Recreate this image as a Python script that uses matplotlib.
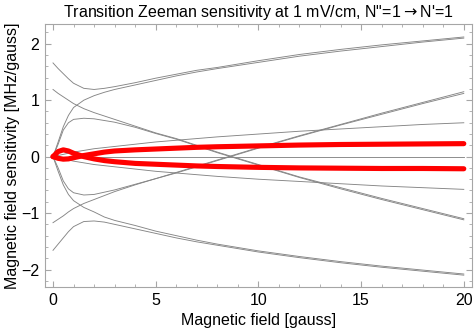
import matplotlib
matplotlib.use('Agg')
import matplotlib.pyplot as plt
from matplotlib.ticker import MultipleLocator

plt.rcParams['font.family'] = ['Liberation Sans', 'DejaVu Sans']

# magnetic field samples [gauss]
field = [0, 0.25, 0.5, 0.75, 1, 1.5, 2, 2.5, 3, 4, 5, 6, 7, 8, 10, 12, 14, 16, 18, 20]

# grey transitions (MHz/gauss)
outer_up = [1.66, 1.56, 1.47, 1.38, 1.30, 1.21, 1.19, 1.21, 1.24, 1.31, 1.39, 1.46, 1.53, 1.58, 1.70, 1.81, 1.90, 1.98, 2.05, 2.12]
steep_up = [0.0, 0.26, 0.53, 0.73, 0.87, 1.00, 1.08, 1.14, 1.19, 1.27, 1.35, 1.43, 1.50, 1.56, 1.67, 1.78, 1.87, 1.95, 2.03, 2.10]
fall_a = [1.19, 1.12, 1.06, 1.00, 0.94, 0.85, 0.78, 0.72, 0.66, 0.54, 0.42, 0.32, 0.20, 0.08, -0.14, -0.36, -0.55, -0.74, -0.92, -1.10]
fall_b = [0.0, 0.22, 0.47, 0.60, 0.66, 0.68, 0.67, 0.64, 0.61, 0.52, 0.41, 0.31, 0.19, 0.07, -0.15, -0.37, -0.57, -0.76, -0.94, -1.12]
slow_up = [0.0, 0.02, 0.04, 0.06, 0.08, 0.11, 0.14, 0.16, 0.18, 0.22, 0.26, 0.29, 0.32, 0.35, 0.40, 0.45, 0.49, 0.53, 0.57, 0.60]
flat = [0.0] * 20
slow_down = [0.0, -0.02, -0.04, -0.06, -0.08, -0.11, -0.14, -0.16, -0.18, -0.22, -0.26, -0.29, -0.32, -0.35, -0.40, -0.44, -0.48, -0.52, -0.55, -0.58]
rise_a = [-1.17, -1.11, -1.05, -0.98, -0.92, -0.83, -0.76, -0.69, -0.62, -0.50, -0.39, -0.28, -0.17, -0.06, 0.16, 0.37, 0.57, 0.77, 0.96, 1.15]
rise_b = [0.0, -0.20, -0.43, -0.57, -0.64, -0.68, -0.67, -0.63, -0.59, -0.49, -0.39, -0.29, -0.18, -0.07, 0.15, 0.36, 0.56, 0.75, 0.94, 1.12]
steep_down = [0.0, -0.26, -0.50, -0.67, -0.78, -0.90, -0.98, -1.07, -1.13, -1.22, -1.32, -1.40, -1.48, -1.55, -1.67, -1.77, -1.86, -1.94, -2.01, -2.08]
outer_down = [-1.66, -1.55, -1.44, -1.33, -1.24, -1.15, -1.14, -1.16, -1.20, -1.28, -1.36, -1.44, -1.51, -1.57, -1.69, -1.79, -1.88, -1.96, -2.03, -2.10]

grey_curves = [outer_up, steep_up, fall_a, fall_b, slow_up, flat,
               slow_down, rise_a, rise_b, steep_down, outer_down]

# highlighted (red) transitions
red_a = [0.0, 0.09, 0.12, 0.10, 0.06, 0.0, -0.04, -0.07, -0.09, -0.12, -0.135, -0.15, -0.165, -0.175, -0.19, -0.20, -0.205, -0.21, -0.21, -0.215]
red_b = [0.0, -0.03, -0.045, -0.04, -0.02, 0.02, 0.05, 0.08, 0.10, 0.12, 0.135, 0.15, 0.165, 0.175, 0.19, 0.205, 0.215, 0.22, 0.225, 0.23]

fig = plt.figure(figsize=(4.74, 3.34), dpi=100)
ax = fig.add_axes([45 / 474, 47 / 334, 427 / 474, 263 / 334])

for ys in grey_curves:
    ax.plot(field, ys, color='#858585', lw=0.65)
for ys in [red_a, red_b]:
    ax.plot(field, ys, color='red', lw=3.7, solid_joinstyle='round', solid_capstyle='round')

ax.set_xlim(-0.39, 20.4)
ax.set_ylim(-2.31, 2.35)
ax.xaxis.set_major_locator(MultipleLocator(5))
ax.xaxis.set_minor_locator(MultipleLocator(1))
ax.yaxis.set_major_locator(MultipleLocator(1))
ax.yaxis.set_minor_locator(MultipleLocator(0.2))

frame_grey = '#a6a6a6'
for sp in ax.spines.values():
    sp.set_color(frame_grey)
    sp.set_linewidth(0.8)
ax.tick_params(which='both', direction='in', top=True, right=True, color=frame_grey, labelsize=11.5)
ax.tick_params(which='major', length=4, width=0.8, pad=4)
ax.tick_params(which='minor', length=2.2, width=0.6)

# arrow taken from DejaVu Sans, Liberation's one is tiny
ax.set_title('Transition Zeeman sensitivity at 1 mV/cm, N"=1$\\rightarrow$N\'=1', fontsize=11.5, pad=5)
ax.set_xlabel('Magnetic field [gauss]', fontsize=11.5, labelpad=4)
ax.set_ylabel('Magnetic field sensitivity [MHz/gauss]', fontsize=11.5, labelpad=1)

fig.savefig('out.png', dpi=100)
